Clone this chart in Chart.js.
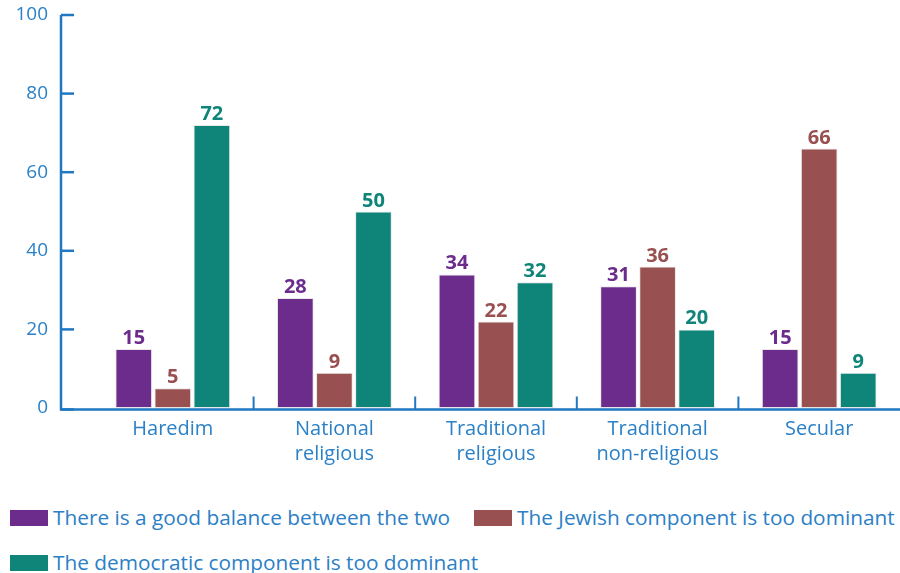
<!DOCTYPE html>
<html>
<head>
<meta charset="utf-8">
<script src="https://cdn.jsdelivr.net/npm/chart.js@4.4.0/dist/chart.umd.min.js"></script>
<style>
  body { margin: 0; background: #fff; font-family: "Open Sans", sans-serif; }
  #wrap { position: relative; width: 900px; height: 573px; overflow: hidden; }
  #grafico { position: absolute; left: 0; top: 0; }
  #leyenda {
    position: absolute; left: 10px; top: 504px; width: 890px;
    display: flex; flex-wrap: wrap; column-gap: 24px; row-gap: 18px;
  }
  .item { display: flex; align-items: center; white-space: nowrap; color: #2b80c6; font-size: 20.8px; line-height: 27px; }
  .caja { width: 38px; height: 16px; margin-right: 5px; flex: none; }
</style>
</head>
<body>
<div id="wrap">
  <canvas id="grafico" width="900" height="480"></canvas>
  <div id="leyenda"></div>
</div>
<script>
// datos
const categorias = [["Haredim"], ["National", "religious"], ["Traditional", "religious"], ["Traditional", "non-religious"], ["Secular"]];
const series = ["There is a good balance between the two", "The Jewish component is too dominant", "The democratic component is too dominant"];
const buenBalance = [15, 28, 34, 31, 15];
const judioDominante = [5, 9, 22, 36, 66];
const democraticoDominante = [72, 50, 32, 20, 9];
const ticksY = [0, 20, 40, 60, 80, 100];

const colores = ["#6b2c8c", "#985150", "#0f857a"];
const azul = "#2b80c6";
const azulEje = "#1f78c1";
const fuente = "'Open Sans', sans-serif";

// ejes dibujados a mano (linea Y separada del area de barras)
const ejesPlugin = {
  id: "ejes",
  afterDatasetsDraw(chart) {
    const { ctx, chartArea, scales: { x, y } } = chart;
    const ejeX = chartArea.left - 31;
    const y0 = y.getPixelForValue(0) + 1.5;
    ctx.save();
    ctx.strokeStyle = azulEje;
    ctx.lineWidth = 2.5;
    ctx.beginPath();
    ctx.moveTo(ejeX, y.getPixelForValue(ticksY[ticksY.length - 1]));
    ctx.lineTo(ejeX, y0);
    ctx.lineTo(chartArea.right, y0);
    ctx.stroke();

    ticksY.forEach(v => {
      const py = v === 0 ? y0 : y.getPixelForValue(v);
      ctx.beginPath();
      ctx.moveTo(ejeX, py);
      ctx.lineTo(ejeX + 13, py);
      ctx.stroke();
    });

    ctx.lineWidth = 2;
    for (let i = 1; i < categorias.length; i++) {
      const px = (x.getPixelForValue(i - 1) + x.getPixelForValue(i)) / 2;
      ctx.beginPath();
      ctx.moveTo(px, y0);
      ctx.lineTo(px, y0 - 13);
      ctx.stroke();
    }

    // etiquetas de valor
    ctx.font = "bold 20px " + fuente;
    ctx.textAlign = "center";
    ctx.textBaseline = "alphabetic";
    chart.data.datasets.forEach((ds, d) => {
      ctx.fillStyle = colores[d];
      chart.getDatasetMeta(d).data.forEach((bar, i) => {
        ctx.fillText(ds.data[i], bar.x, bar.y - 5);
      });
    });
    ctx.restore();
  }
};

const valores = [buenBalance, judioDominante, democraticoDominante];

new Chart(document.getElementById("grafico"), {
  type: "bar",
  data: {
    labels: categorias,
    datasets: valores.map((data, i) => ({
      label: series[i],
      data,
      backgroundColor: colores[i],
      borderColor: "rgba(230,230,230,0.9)",
      borderWidth: 1,
      borderSkipped: false,
      categoryPercentage: 0.725,
      barPercentage: 0.94
    }))
  },
  options: {
    responsive: false,
    animation: false,
    layout: { padding: { left: 0, right: 0, top: 15, bottom: 0 } },
    plugins: { legend: { display: false }, tooltip: { enabled: false } },
    scales: {
      x: {
        offset: true,
        grid: { display: false, drawTicks: false },
        border: { display: false },
        ticks: { color: azul, font: { size: 20, family: fuente, lineHeight: 1.25 }, padding: 9, maxRotation: 0, autoSkip: false },
        afterFit: s => { s.height = 72; }
      },
      y: {
        min: 0,
        max: 100,
        grid: { display: false, drawTicks: false },
        border: { display: false },
        ticks: { stepSize: 20, color: azul, font: { size: 19, family: fuente }, padding: 44 },
        afterFit: s => { s.width = 92; s.paddingTop = 10; s.paddingBottom = 10; }
      }
    }
  },
  plugins: [ejesPlugin]
});

// leyenda en HTML
const leyenda = document.getElementById("leyenda");
series.forEach((nombre, i) => {
  const item = document.createElement("div");
  item.className = "item";
  item.innerHTML = `<span class="caja" style="background:${colores[i]}"></span><span>${nombre}</span>`;
  leyenda.appendChild(item);
});
</script>
</body>
</html>
